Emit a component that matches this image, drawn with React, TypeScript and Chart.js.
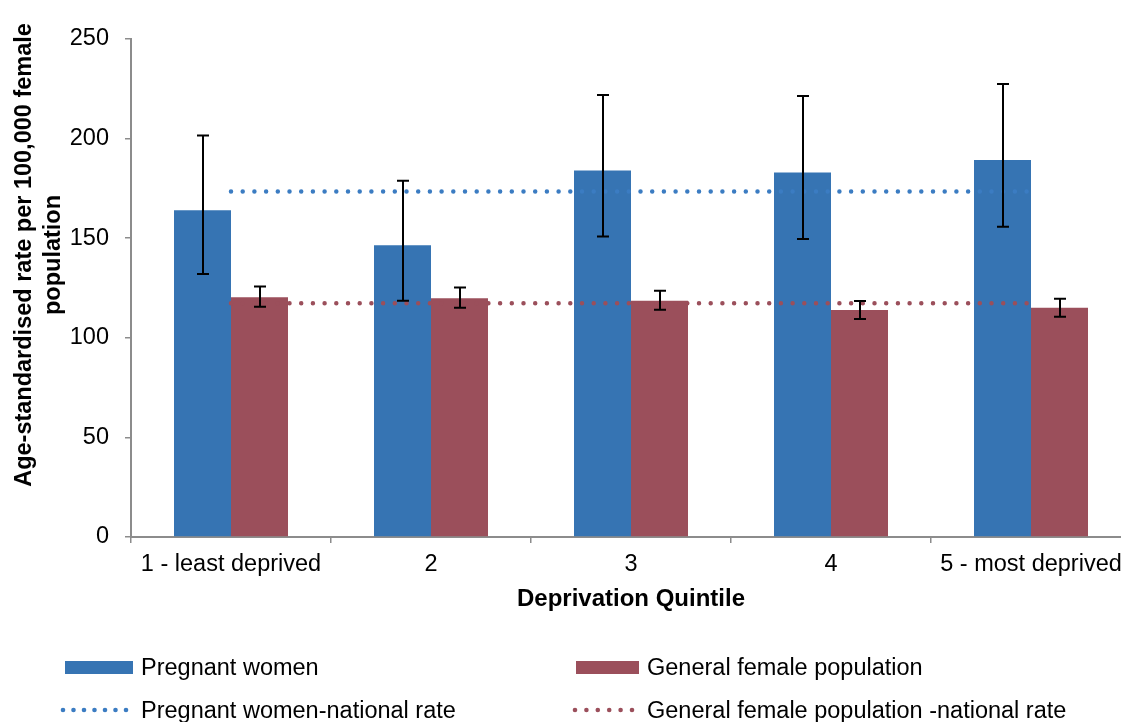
import React, { useEffect, useRef } from 'react';
import { Chart, registerables } from 'chart.js';

Chart.register(...registerables);

const FONT = "'Liberation Sans', Arial, Helvetica, sans-serif";

// ---- data ----
const categories = ['1 - least deprived', '2', '3', '4', '5 - most deprived'];
const pregnantWomen = [164.0, 146.5, 184.0, 183.0, 189.3];
const pregnantUpper = [201.5, 178.9, 221.9, 221.4, 227.4];
const pregnantLower = [132.0, 118.6, 150.8, 149.6, 155.8];
const generalFemale = [120.3, 119.8, 118.6, 114.0, 115.1];
const generalUpper = [125.8, 125.2, 123.6, 118.5, 119.6];
const generalLower = [115.6, 115.1, 114.1, 109.4, 110.6];
const pregnantNational = [173.5, 173.5, 173.5, 173.5, 173.5];
const generalNational = [117.3, 117.3, 117.3, 117.3, 117.3];
const seriesLabels = [
  'Pregnant women',
  'General female population',
  'Pregnant women-national rate',
  'General female population -national rate',
];
const yTitleLines = ['Age-standardised rate per 100,000 female', 'population'];
const xTitle = 'Deprivation Quintile';
const yMin = 0;
const yMax = 250;
const yStep = 50;

const BLUE = '#3674b3';
const RED = '#9b4f5b';
const BLUE_DOT = '#3b7cc2';
const RED_DOT = '#9b4f5b';
const AXIS = '#8c8c8c';

const errorBarPlugin = {
  id: 'errorBars',
  afterDatasetsDraw(chart: any) {
    const { ctx } = chart;
    const y = chart.scales.y;
    const sets: [number, number[], number[]][] = [
      [0, pregnantLower, pregnantUpper],
      [1, generalLower, generalUpper],
    ];
    ctx.save();
    ctx.strokeStyle = '#000';
    ctx.lineWidth = 2;
    for (const [di, lo, hi] of sets) {
      const meta = chart.getDatasetMeta(di);
      meta.data.forEach((bar: any, i: number) => {
        const x = Math.round(bar.x);
        const yt = y.getPixelForValue(hi[i]);
        const yb = y.getPixelForValue(lo[i]);
        ctx.beginPath();
        ctx.moveTo(x, yt);
        ctx.lineTo(x, yb);
        ctx.moveTo(x - 6, yt);
        ctx.lineTo(x + 6, yt);
        ctx.moveTo(x - 6, yb);
        ctx.lineTo(x + 6, yb);
        ctx.stroke();
      });
    }
    ctx.restore();
  },
};

const yTitlePlugin = {
  id: 'yTitleCustom',
  afterDraw(chart: any) {
    const { ctx } = chart;
    ctx.save();
    ctx.font = `bold 23.5px ${FONT}`;
    ctx.fillStyle = '#000';
    ctx.textAlign = 'center';
    ctx.textBaseline = 'alphabetic';
    ctx.translate(31, 255);
    ctx.rotate(-Math.PI / 2);
    yTitleLines.forEach((line, i) => ctx.fillText(line, 0, i * 28.5));
    ctx.restore();
  },
};

const legendPlugin = {
  id: 'customLegend',
  afterDraw(chart: any) {
    const { ctx } = chart;
    const ds = chart.data.datasets;
    ctx.save();
    ctx.font = `23.5px ${FONT}`;
    ctx.textAlign = 'left';
    ctx.textBaseline = 'alphabetic';
    // bar entries
    ctx.fillStyle = ds[0].backgroundColor;
    ctx.fillRect(65, 661, 68, 13);
    ctx.fillStyle = ds[1].backgroundColor;
    ctx.fillRect(576, 661, 63, 13);
    // dotted entries
    const dots = (x0: number, n: number, step: number, color: string) => {
      ctx.fillStyle = color;
      for (let k = 0; k < n; k++) {
        ctx.beginPath();
        ctx.arc(x0 + k * step, 710, 2.3, 0, Math.PI * 2);
        ctx.fill();
      }
    };
    dots(63, 7, 10.5, ds[2].borderColor);
    dots(575, 6, 11.4, ds[3].borderColor);
    ctx.fillStyle = '#000';
    ctx.fillText(ds[0].label, 141, 675);
    ctx.fillText(ds[1].label, 647, 675);
    ctx.fillText(ds[2].label, 141, 718);
    ctx.fillText(ds[3].label, 647, 718);
    ctx.restore();
  },
};

export default function App() {
  const canvasRef = useRef<HTMLCanvasElement | null>(null);

  useEffect(() => {
    if (!canvasRef.current) return;
    Chart.defaults.font.family = FONT;
    const chart = new Chart(canvasRef.current, {
      type: 'bar',
      data: {
        labels: categories,
        datasets: [
          {
            type: 'bar',
            label: seriesLabels[0],
            data: pregnantWomen,
            backgroundColor: BLUE,
            borderWidth: 0,
            categoryPercentage: 0.57,
            barPercentage: 1.0,
            order: 2,
          },
          {
            type: 'bar',
            label: seriesLabels[1],
            data: generalFemale,
            backgroundColor: RED,
            borderWidth: 0,
            categoryPercentage: 0.57,
            barPercentage: 1.0,
            order: 2,
          },
          {
            type: 'line',
            label: seriesLabels[2],
            data: pregnantNational,
            borderColor: BLUE_DOT,
            backgroundColor: BLUE_DOT,
            borderWidth: 4.5,
            borderDash: [0, 11.7],
            borderCapStyle: 'round',
            pointRadius: 0,
            fill: false,
            order: 1,
          },
          {
            type: 'line',
            label: seriesLabels[3],
            data: generalNational,
            borderColor: RED_DOT,
            backgroundColor: RED_DOT,
            borderWidth: 4.5,
            borderDash: [0, 11.7],
            borderCapStyle: 'round',
            pointRadius: 0,
            fill: false,
            order: 1,
          },
        ] as any,
      },
      options: {
        animation: false,
        responsive: false,
        maintainAspectRatio: false,
        events: [],
        layout: { padding: { left: 0, top: 39, right: 10, bottom: 100 } },
        plugins: {
          legend: { display: false },
          tooltip: { enabled: false },
          title: { display: false },
        },
        scales: {
          x: {
            type: 'category',
            offset: true,
            grid: {
              display: true,
              offset: true,
              drawOnChartArea: false,
              drawTicks: true,
              tickLength: 6,
              color: AXIS,
              lineWidth: 1.5,
            },
            border: { display: true, color: AXIS, width: 2 },
            ticks: {
              color: '#000',
              font: { size: 23.5, family: FONT },
              padding: 7,
              maxRotation: 0,
              autoSkip: false,
            },
            title: {
              display: true,
              text: xTitle,
              color: '#000',
              font: { size: 24, weight: 'bold', family: FONT },
              padding: { top: 0, bottom: 8 },
            },
            afterFit: (scale: any) => {
              scale.height = 85;
            },
          },
          y: {
            type: 'linear',
            min: yMin,
            max: yMax,
            grid: {
              display: true,
              drawOnChartArea: false,
              drawTicks: true,
              tickLength: 6,
              color: AXIS,
              lineWidth: 1.5,
            },
            border: { display: true, color: AXIS, width: 2 },
            ticks: {
              stepSize: yStep,
              color: '#000',
              font: { size: 23.5, family: FONT },
              padding: 16,
            },
            afterFit: (scale: any) => {
              scale.width = 131;
            },
          },
        },
      } as any,
      plugins: [errorBarPlugin, yTitlePlugin, legendPlugin],
    });
    return () => chart.destroy();
  }, []);

  return (
    <div
      style={{
        position: 'fixed',
        left: 0,
        top: 0,
        width: 1121,
        height: 722,
        overflow: 'hidden',
        background: '#fff',
      }}
    >
      <canvas
        ref={canvasRef}
        width={1141}
        height={722}
        style={{ width: 1141, height: 722, display: 'block' }}
      />
    </div>
  );
}
